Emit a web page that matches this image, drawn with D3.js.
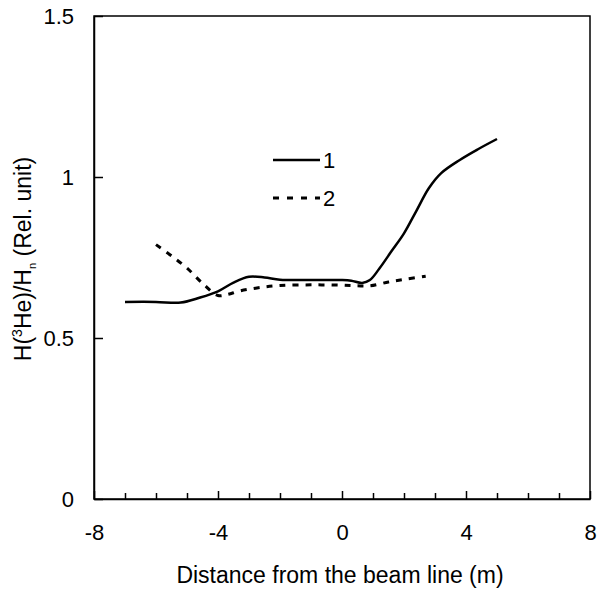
<!DOCTYPE html>
<html>
<head>
<meta charset="utf-8">
<script src="https://cdn.jsdelivr.net/npm/d3@7"></script>
<style>
  body { margin: 0; background: #fff; }
  text { font-family: "Liberation Sans", Arial, sans-serif; fill: #000; }
</style>
</head>
<body>
<div id="chart"></div>
<script>
// curve 1 (solid)
const x1 = [-7, -6, -5.2, -4.6, -4.0, -3.5, -3.0, -2.5, -2, -1, 0, 0.3, 0.65, 0.9, 1.2, 1.6, 2.0, 2.4, 2.8, 3.2, 3.8, 4.4, 5];
const y1 = [0.612, 0.612, 0.610, 0.625, 0.645, 0.672, 0.690, 0.688, 0.681, 0.680, 0.680, 0.678, 0.671, 0.680, 0.715, 0.770, 0.825, 0.895, 0.965, 1.012, 1.053, 1.087, 1.118];
// curve 2 (dashed)
const x2 = [-6, -5.5, -5, -4.5, -4.0, -3.7, -3.3, -2.7, -2, -1, 0, 0.5, 0.9, 1.5, 2.0, 2.7];
const y2 = [0.79, 0.755, 0.717, 0.67, 0.632, 0.635, 0.646, 0.656, 0.663, 0.665, 0.664, 0.662, 0.662, 0.674, 0.682, 0.692];

const xTicks = d3.range(-8, 9, 1);
const xLabels = [-8, -4, 0, 4, 8];
const yTicks = [0, 0.5, 1, 1.5];
const legendNames = ['1', '2'];

const W = 597, H = 592;
const margin = { top: 16, right: 7, bottom: 93, left: 94 };
const width = W - margin.left - margin.right,
    height = H - margin.top - margin.bottom;

const svg = d3.select('#chart').append('svg')
    .attr('width', W)
    .attr('height', H);

const plot = svg.append('g')
    .attr('transform', `translate(${margin.left},${margin.top})`);

const x = d3.scaleLinear().domain([-8, 8]).range([0, width]);
const y = d3.scaleLinear().domain([0, 1.5]).range([height, 0]);

// frame
plot.append('rect')
    .attr('width', width)
    .attr('height', height)
    .attr('fill', 'none')
    .attr('stroke', '#000')
    .attr('stroke-width', 1.5);

// x axis, ticks pointing inward
const xAxis = plot.append('g')
    .attr('transform', `translate(0,${height})`)
    .call(d3.axisBottom(x)
        .tickValues(xTicks)
        .tickSizeInner(-6)
        .tickSizeOuter(0)
        .tickPadding(25)
        .tickFormat(d => xLabels.includes(d) ? d : ''));
xAxis.select('.domain').attr('stroke-width', 1.5);
xAxis.selectAll('.tick line')
    .attr('y2', d => xLabels.includes(d) ? -8 : -6)
    .attr('stroke-width', 1.5);
xAxis.selectAll('.tick text')
    .style('font-size', '22px')
    .style('font-family', '"Liberation Sans", Arial, sans-serif');

// y axis
const yAxis = plot.append('g')
    .call(d3.axisLeft(y)
        .tickValues(yTicks)
        .tickSizeInner(-9)
        .tickSizeOuter(0)
        .tickPadding(20)
        .tickFormat(d => d));
yAxis.select('.domain').attr('stroke-width', 1.5);
yAxis.selectAll('.tick line').attr('stroke-width', 1.5);
yAxis.selectAll('.tick text')
    .style('font-size', '22px')
    .style('font-family', '"Liberation Sans", Arial, sans-serif');

// lines
const line = d3.line()
    .x(d => x(d[0]))
    .y(d => y(d[1]))
    .curve(d3.curveCatmullRom.alpha(0.5));

plot.append('path')
    .datum(x1.map((v, i) => [v, y1[i]]))
    .attr('d', line)
    .attr('fill', 'none')
    .attr('stroke', '#000')
    .attr('stroke-width', 2.5);

plot.append('path')
    .datum(x2.map((v, i) => [v, y2[i]]))
    .attr('d', line)
    .attr('fill', 'none')
    .attr('stroke', '#000')
    .attr('stroke-width', 3)
    .attr('stroke-dasharray', '6,7');

// legend
const legend = svg.append('g');
legendNames.forEach((name, i) => {
    const ly = 160 + i * 38;
    legend.append('line')
        .attr('x1', 273).attr('x2', 320)
        .attr('y1', ly).attr('y2', ly)
        .attr('stroke', '#000')
        .attr('stroke-width', i === 0 ? 2.5 : 3)
        .attr('stroke-dasharray', i === 0 ? null : '6,8');
    legend.append('text')
        .attr('x', 323)
        .attr('y', ly + 8)
        .style('font-size', '22px')
        .text(name);
});

// axis titles
svg.append('text')
    .attr('x', margin.left + width / 2 - 2)
    .attr('y', 583)
    .attr('text-anchor', 'middle')
    .style('font-size', '23px')
    .text('Distance from the beam line (m)');

const yl = svg.append('text')
    .attr('transform', 'translate(31,259) rotate(-90)')
    .attr('text-anchor', 'middle')
    .style('font-size', '23px');
yl.append('tspan').text('H(');
yl.append('tspan').attr('dy', -9).style('font-size', '14px').text('3');
yl.append('tspan').attr('dy', 9).text('He)/H');
yl.append('tspan').attr('dy', 5).style('font-size', '11px').text('n');
yl.append('tspan').attr('dy', -5).text(' (Rel. unit)');
</script>
</body>
</html>
